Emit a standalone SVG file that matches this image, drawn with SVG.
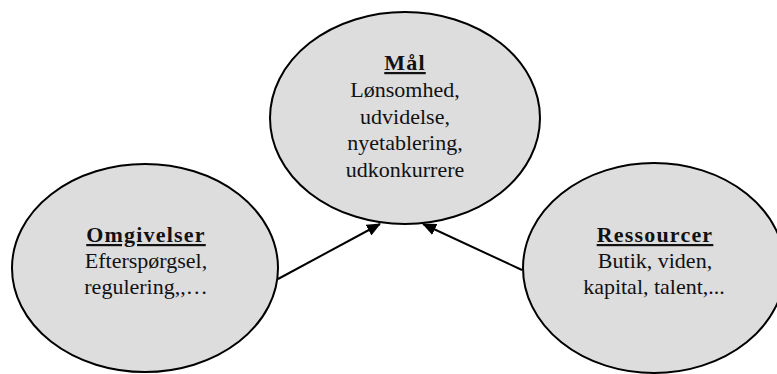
<svg xmlns="http://www.w3.org/2000/svg" width="777" height="374" viewBox="0 0 777 374">
  <defs>
    <style>
      .node { fill: #dddddd; stroke: #000000; stroke-width: 2; }
      .title { font-family: "Liberation Serif", "Times New Roman", serif; font-size: 22px; font-weight: bold; text-decoration: underline; letter-spacing: 1.2px; fill: #111111; }
      .body { font-family: "Liberation Serif", "Times New Roman", serif; font-size: 22px; fill: #111111; }
      .edge { stroke: #000000; stroke-width: 2; fill: none; marker-end: url(#arrow); }
    </style>
    <marker id="arrow" markerUnits="userSpaceOnUse" markerWidth="14" markerHeight="12" refX="13" refY="6" orient="auto">
      <path d="M0,0 L14,6 L0,12 Z" fill="#000000"/>
    </marker>
  </defs>
  <rect width="777" height="374" fill="#ffffff"/>
  <g id="node-maal">
    <ellipse class="node" cx="405" cy="118" rx="135" ry="106"/>
    <text class="title" x="405" y="70" text-anchor="middle">Mål</text>
    <text class="body" x="405" y="97" text-anchor="middle">Lønsomhed,</text>
    <text class="body" x="405" y="124" text-anchor="middle">udvidelse,</text>
    <text class="body" x="405" y="150" text-anchor="middle">nyetablering,</text>
    <text class="body" x="405" y="177" text-anchor="middle">udkonkurrere</text>
  </g>
  <g id="node-omgivelser">
    <ellipse class="node" cx="145" cy="268" rx="133" ry="104"/>
    <text class="title" x="146" y="242" text-anchor="middle">Omgivelser</text>
    <text class="body" x="146" y="268" text-anchor="middle">Efterspørgsel,</text>
    <text class="body" x="146" y="294" text-anchor="middle">regulering,,…</text>
  </g>
  <g id="node-ressourcer">
    <ellipse class="node" cx="654" cy="268" rx="131" ry="105"/>
    <text class="title" x="655" y="242" text-anchor="middle">Ressourcer</text>
    <text class="body" x="655" y="268" text-anchor="middle">Butik, viden,</text>
    <text class="body" x="654" y="294" text-anchor="middle">kapital, talent,...</text>
  </g>
  <g id="connectors">
    <line class="edge" x1="278" y1="279" x2="380" y2="224"/>
    <line class="edge" x1="522" y1="270" x2="423" y2="224"/>
  </g>
</svg>
